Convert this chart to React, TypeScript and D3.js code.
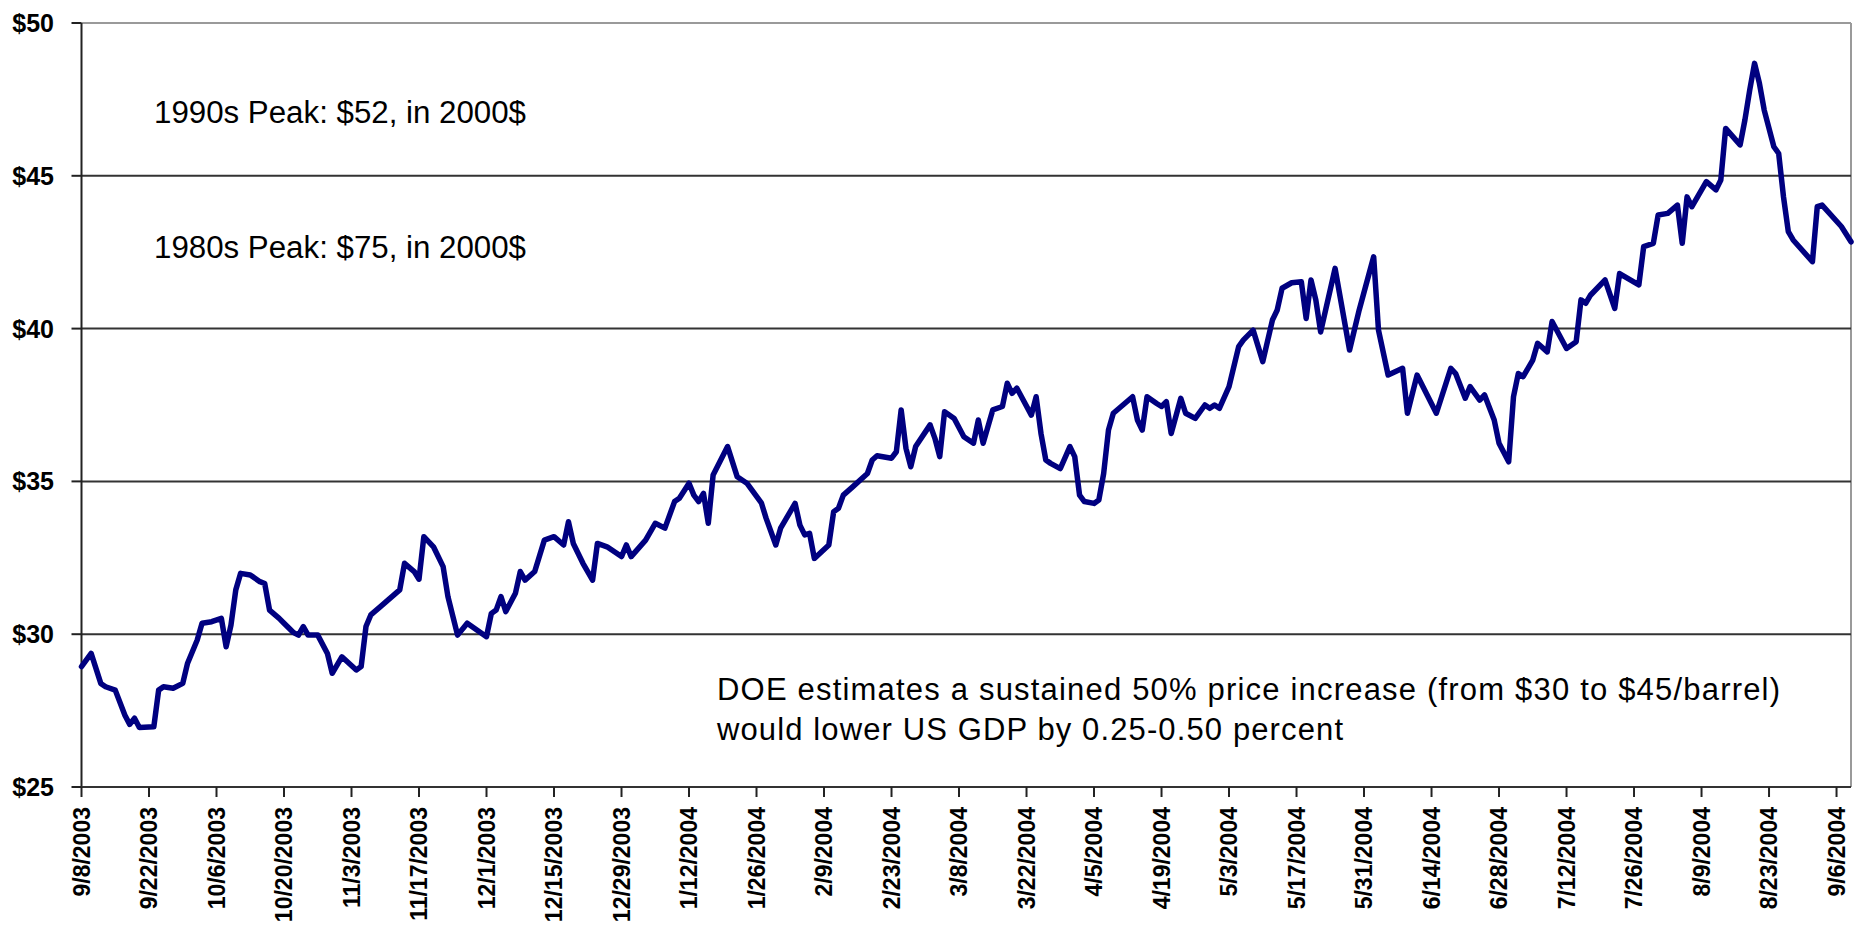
import React from "react";
import * as d3 from "d3";

const tickLabels = [
  "9/8/2003", "9/22/2003", "10/6/2003", "10/20/2003", "11/3/2003", "11/17/2003",
  "12/1/2003", "12/15/2003", "12/29/2003", "1/12/2004", "1/26/2004", "2/9/2004",
  "2/23/2004", "3/8/2004", "3/22/2004", "4/5/2004", "4/19/2004", "5/3/2004",
  "5/17/2004", "5/31/2004", "6/14/2004", "6/28/2004", "7/12/2004", "7/26/2004",
  "8/9/2004", "8/23/2004", "9/6/2004",
];

const yTicks = [25, 30, 35, 40, 45, 50];

const dates = [
  "9/8/2003", "9/10/2003", "9/12/2003", "9/13/2003", "9/15/2003", "9/17/2003", "9/18/2003", "9/19/2003", "9/20/2003",
  "9/23/2003", "9/24/2003", "9/25/2003", "9/27/2003", "9/29/2003", "9/30/2003",
  "10/2/2003", "10/3/2003", "10/5/2003", "10/7/2003", "10/8/2003", "10/9/2003", "10/10/2003", "10/11/2003",
  "10/13/2003", "10/15/2003", "10/16/2003", "10/17/2003", "10/19/2003", "10/20/2003", "10/22/2003", "10/23/2003",
  "10/24/2003", "10/25/2003", "10/27/2003", "10/29/2003", "10/30/2003",
  "11/1/2003", "11/4/2003", "11/5/2003", "11/6/2003", "11/7/2003", "11/9/2003", "11/13/2003", "11/14/2003",
  "11/16/2003", "11/17/2003", "11/18/2003", "11/20/2003", "11/22/2003", "11/23/2003", "11/25/2003", "11/27/2003",
  "12/1/2003", "12/2/2003", "12/3/2003", "12/4/2003", "12/5/2003", "12/7/2003", "12/8/2003", "12/9/2003",
  "12/11/2003", "12/13/2003", "12/15/2003", "12/17/2003", "12/18/2003", "12/19/2003", "12/21/2003", "12/23/2003",
  "12/24/2003", "12/26/2003", "12/29/2003", "12/30/2003", "12/31/2003",
  "1/3/2004", "1/5/2004", "1/7/2004", "1/9/2004", "1/10/2004", "1/12/2004", "1/13/2004", "1/14/2004", "1/15/2004",
  "1/16/2004", "1/17/2004", "1/20/2004", "1/22/2004", "1/24/2004", "1/27/2004", "1/28/2004", "1/30/2004", "1/31/2004",
  "2/3/2004", "2/4/2004", "2/5/2004", "2/6/2004", "2/7/2004", "2/10/2004", "2/11/2004", "2/12/2004", "2/13/2004",
  "2/15/2004", "2/18/2004", "2/19/2004", "2/20/2004", "2/23/2004", "2/24/2004", "2/25/2004", "2/26/2004", "2/27/2004",
  "2/28/2004",
  "3/2/2004", "3/3/2004", "3/4/2004", "3/5/2004", "3/7/2004", "3/9/2004", "3/11/2004", "3/12/2004", "3/13/2004",
  "3/15/2004", "3/17/2004", "3/18/2004", "3/19/2004", "3/20/2004", "3/23/2004", "3/24/2004", "3/25/2004", "3/26/2004",
  "3/27/2004", "3/29/2004", "3/31/2004",
  "4/1/2004", "4/2/2004", "4/3/2004", "4/5/2004", "4/6/2004", "4/7/2004", "4/8/2004", "4/9/2004", "4/13/2004",
  "4/14/2004", "4/15/2004", "4/16/2004", "4/18/2004", "4/19/2004", "4/20/2004", "4/21/2004", "4/23/2004", "4/24/2004",
  "4/26/2004", "4/28/2004", "4/29/2004", "4/30/2004",
  "5/1/2004", "5/3/2004", "5/5/2004", "5/6/2004", "5/8/2004", "5/10/2004", "5/12/2004", "5/13/2004", "5/14/2004",
  "5/16/2004", "5/18/2004", "5/19/2004", "5/20/2004", "5/21/2004", "5/22/2004", "5/25/2004", "5/28/2004", "5/30/2004",
  "6/2/2004", "6/3/2004", "6/5/2004", "6/8/2004", "6/9/2004", "6/11/2004", "6/15/2004", "6/18/2004", "6/19/2004",
  "6/21/2004", "6/22/2004", "6/24/2004", "6/25/2004", "6/27/2004", "6/28/2004", "6/30/2004",
  "7/1/2004", "7/2/2004", "7/3/2004", "7/5/2004", "7/6/2004", "7/8/2004", "7/9/2004", "7/12/2004", "7/14/2004",
  "7/15/2004", "7/16/2004", "7/17/2004", "7/20/2004", "7/22/2004", "7/23/2004", "7/27/2004", "7/28/2004", "7/30/2004",
  "7/31/2004",
  "8/2/2004", "8/4/2004", "8/5/2004", "8/6/2004", "8/7/2004", "8/10/2004", "8/12/2004", "8/13/2004", "8/14/2004",
  "8/17/2004", "8/18/2004", "8/19/2004", "8/20/2004", "8/21/2004", "8/22/2004", "8/24/2004", "8/25/2004", "8/26/2004",
  "8/27/2004", "8/28/2004",
  "9/1/2004", "9/2/2004", "9/3/2004", "9/7/2004", "9/9/2004",
];

const prices = [
  28.94, 29.37, 28.39, 28.28, 28.17, 27.35, 27.05, 27.25, 26.95,
  26.97, 28.17, 28.28, 28.23, 28.39, 29.05,
  29.81, 30.36, 30.41, 30.52, 29.59, 30.3, 31.45, 31.99,
  31.94, 31.72, 31.66, 30.79, 30.52, 30.36, 30.05, 29.97,
  30.25, 29.97, 29.97, 29.37, 28.72,
  29.26, 28.83, 28.94, 30.25, 30.63, 30.9, 31.45, 32.32,
  32.05, 31.8, 33.19, 32.86, 32.21, 31.23, 29.97, 30.36,
  29.92, 30.68, 30.79, 31.23, 30.74, 31.34, 32.05, 31.77,
  32.05, 33.08, 33.19, 32.92, 33.68, 32.97, 32.32, 31.77,
  32.97, 32.86, 32.54, 32.92, 32.54,
  33.08, 33.63, 33.47, 34.34, 34.45, 34.94, 34.55, 34.34, 34.61,
  33.63, 35.21, 36.14, 35.15, 34.94, 34.3, 33.79, 32.92, 33.47,
  34.28, 33.57, 33.25, 33.3, 32.48, 32.92, 34.01, 34.12, 34.55,
  34.83, 35.26, 35.7, 35.84, 35.76, 35.97, 37.34, 36.08, 35.48,
  36.14,
  36.85, 36.41, 35.81, 37.28, 37.06, 36.46, 36.25, 37.01, 36.25,
  37.34, 37.45, 38.21, 37.88, 38.05, 37.17, 37.77, 36.57, 35.7,
  35.59, 35.42, 36.14,
  35.81, 34.55, 34.34, 34.28, 34.39, 35.26, 36.68, 37.23, 37.77,
  37.01, 36.68, 37.77, 37.55, 37.45, 37.61, 36.57, 37.72, 37.23,
  37.06, 37.5, 37.39, 37.5,
  37.39, 38.1, 39.41, 39.63, 39.95, 38.92, 40.28, 40.61, 41.32,
  41.5, 41.53, 40.33, 41.59, 40.94, 39.89, 41.97, 39.3, 40.61,
  42.35, 39.95, 38.48, 38.7, 37.23, 38.48, 37.23, 38.7, 38.53,
  37.72, 38.1, 37.66, 37.83, 37.01, 36.25, 35.64,
  37.77, 38.53, 38.43, 38.97, 39.52, 39.24, 40.23, 39.35, 39.57,
  40.94, 40.83, 41.1, 41.59, 40.66, 41.8, 41.43, 42.68, 42.79,
  43.72,
  43.77, 44.04, 42.79, 44.31, 43.99, 44.81, 44.54, 44.86, 46.55,
  46.01, 46.83, 47.81, 48.68, 48.03, 47.15, 45.95, 45.73, 44.31,
  43.17, 42.9,
  42.19, 43.99, 44.04, 43.34, 42.84,
];

const peakNotes = ["1990s Peak: $52, in 2000$", "1980s Peak: $75, in 2000$"];
const doeNote = [
  "DOE estimates a sustained 50% price increase (from $30 to $45/barrel)",
  "would lower US GDP by 0.25-0.50 percent",
];

const FONT = "'Liberation Sans', Arial, sans-serif";

export default function App() {
  const W = 1864;
  const H = 928;
  const left = 81.5;
  const right = 1851;
  const top = 23;
  const bottom = 787;

  const parse = d3.timeParse("%m/%d/%Y");
  const x = d3
    .scaleTime()
    .domain([parse("9/8/2003") as Date, parse("9/9/2004") as Date])
    .range([left, right]);
  const y = d3.scaleLinear().domain([25, 50]).range([bottom, top]);

  const pts: [number, number][] = dates.map((d, i) => [x(parse(d) as Date), y(prices[i])]);
  const path = d3.line()(pts) || "";

  return (
    <svg
      width={W}
      height={H}
      style={{ position: "absolute", left: 0, top: 0, background: "#fff" }}
    >
      <rect x={0} y={0} width={W} height={H} fill="#fff" />
      {/* plot border: top & right */}
      <line x1={left} x2={right} y1={y(50)} y2={y(50)} stroke="#9a9a9a" strokeWidth={2} />
      <line x1={right} x2={right} y1={y(50)} y2={y(25)} stroke="#9a9a9a" strokeWidth={2} />
      {/* gridlines */}
      {yTicks
        .filter((t) => t > 25 && t < 50)
        .map((t) => (
          <line key={"g" + t} x1={left} x2={right} y1={y(t)} y2={y(t)} stroke="#333" strokeWidth={2} />
        ))}
      {/* y axis */}
      <line x1={left} x2={left} y1={y(50)} y2={y(25)} stroke="#222" strokeWidth={2} />
      {yTicks.map((t) => (
        <g key={"y" + t}>
          <line x1={left - 10} x2={left} y1={y(t)} y2={y(t)} stroke="#222" strokeWidth={2} />
          <text
            x={54}
            y={y(t)}
            textAnchor="end"
            dominantBaseline="central"
            fontFamily={FONT}
            fontWeight="bold"
            fontSize={25}
            fill="#000"
          >
            {"$" + t}
          </text>
        </g>
      ))}
      {/* x axis */}
      <line x1={left} x2={right} y1={y(25)} y2={y(25)} stroke="#333" strokeWidth={2} />
      {tickLabels.map((lab) => {
        const tx = x(parse(lab) as Date);
        return (
          <g key={lab}>
            <line x1={tx} x2={tx} y1={y(25)} y2={y(25) + 10} stroke="#222" strokeWidth={2} />
            <text
              transform={`translate(${tx},${y(25) + 20}) rotate(-90)`}
              textAnchor="end"
              dominantBaseline="central"
              fontFamily={FONT}
              fontWeight="bold"
              fontSize={23}
              fill="#000"
            >
              {lab}
            </text>
          </g>
        );
      })}
      {/* price line */}
      <path d={path} fill="none" stroke="#000080" strokeWidth={5.5} strokeLinejoin="round" strokeLinecap="round" />
      {/* annotations */}
      <text x={154} y={123} fontFamily={FONT} fontSize={31} fill="#000" textLength={372} lengthAdjust="spacingAndGlyphs">
        {peakNotes[0]}
      </text>
      <text x={154} y={258} fontFamily={FONT} fontSize={31} fill="#000" textLength={372} lengthAdjust="spacingAndGlyphs">
        {peakNotes[1]}
      </text>
      <text x={717} y={700} fontFamily={FONT} fontSize={31} fill="#000" textLength={1063} lengthAdjust="spacing">
        {doeNote[0]}
      </text>
      <text x={717} y={740} fontFamily={FONT} fontSize={31} fill="#000" textLength={626} lengthAdjust="spacing">
        {doeNote[1]}
      </text>
    </svg>
  );
}
